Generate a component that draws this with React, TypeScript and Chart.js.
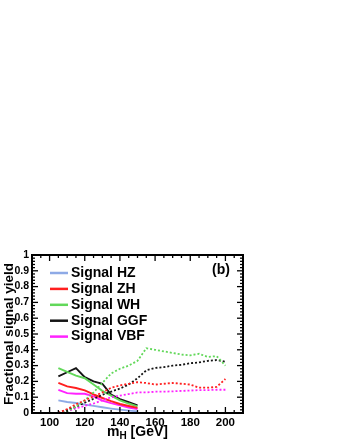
import React, { useEffect, useRef } from "react";
import { Chart, registerables } from "chart.js";

Chart.register(...registerables);

const seriesLabels = ["Signal HZ", "Signal ZH", "Signal WH", "Signal GGF", "Signal VBF"];
const seriesColors = ["#8eaae6", "#ff1f1f", "#62d85a", "#141414", "#ff22ff"];

const massLow = [105, 110, 115, 120, 125, 130, 135, 140, 145, 150];
const massFull = [105, 110, 115, 120, 125, 130, 135, 140, 145, 150, 155, 160, 165, 170, 175, 180, 185, 190, 195, 200];

// solid lines (low-mass analysis)
const hzLow = [0.08, 0.07, 0.063, 0.053, 0.045, 0.036, 0.028, 0.021, 0.015, 0.01];
const zhLow = [0.19, 0.168, 0.158, 0.143, 0.118, 0.095, 0.075, 0.057, 0.044, 0.032];
const whLow = [0.284, 0.26, 0.236, 0.22, 0.18, 0.14, 0.11, 0.08, 0.06, 0.042];
const ggfLow = [0.232, 0.258, 0.284, 0.227, 0.2, 0.185, 0.116, 0.088, 0.068, 0.048];
const vbfLow = [0.147, 0.126, 0.122, 0.122, 0.105, 0.078, 0.062, 0.048, 0.035, 0.025];

// dotted lines (high-mass analysis)
const zhHigh = [0, 0.025, 0.055, 0.08, 0.105, 0.13, 0.16, 0.175, 0.185, 0.195, 0.19, 0.18, 0.185, 0.19, 0.185, 0.18, 0.16, 0.16, 0.165, 0.215];
const whHigh = [0, 0.01, 0.04, 0.08, 0.13, 0.19, 0.25, 0.28, 0.3, 0.33, 0.41, 0.4, 0.39, 0.38, 0.37, 0.365, 0.375, 0.355, 0.36, 0.3];
const ggfHigh = [0, 0.02, 0.04, 0.065, 0.09, 0.115, 0.135, 0.155, 0.18, 0.22, 0.27, 0.285, 0.29, 0.3, 0.305, 0.315, 0.32, 0.33, 0.335, 0.325];
const vbfHigh = [0, 0.01, 0.03, 0.045, 0.06, 0.08, 0.1, 0.11, 0.12, 0.13, 0.13, 0.135, 0.135, 0.137, 0.14, 0.142, 0.145, 0.145, 0.147, 0.147];

const xTickValues = [100, 120, 140, 160, 180, 200];
const yTickValues = [0, 0.1, 0.2, 0.3, 0.4, 0.5, 0.6, 0.7, 0.8, 0.9, 1];
const panelLabel = "(b)";
const xTitleMain = "m";
const xTitleSub = "H";
const xTitleRest = " [GeV]";
const yTitle = "Fractional signal yield";

const FONT = "'Liberation Sans', Arial, Helvetica, sans-serif";

function pts(xs: number[], ys: number[]) {
  return ys.map((y, i) => ({ x: xs[i], y }));
}

const rootStyle = {
  id: "rootStyle",
  afterDatasetsDraw(chart: any) {
    const { ctx, chartArea: a, scales } = chart;
    const xs = scales.x;
    const ys = scales.y;
    ctx.save();
    ctx.strokeStyle = "#000";
    ctx.lineWidth = 1.3;
    const line = (x1: number, y1: number, x2: number, y2: number) => {
      ctx.beginPath();
      ctx.moveTo(x1, y1);
      ctx.lineTo(x2, y2);
      ctx.stroke();
    };
    // x ticks (major every 20, minor every 5)
    for (let m = 90; m <= 210; m += 5) {
      const len = m % 20 === 0 ? 6 : 3;
      const px = xs.getPixelForValue(m);
      line(px, a.bottom, px, a.bottom - len);
      line(px, a.top, px, a.top + len);
    }
    // y ticks (major every 0.1, minor every 0.02)
    for (let i = 0; i <= 50; i++) {
      const len = i % 5 === 0 ? 6 : 3;
      const py = ys.getPixelForValue(i / 50);
      line(a.left, py, a.left + len, py);
      line(a.right, py, a.right - len, py);
    }
    // frame
    ctx.lineWidth = 2;
    ctx.strokeRect(a.left, a.top, a.right - a.left, a.bottom - a.top);

    // legend
    ctx.textBaseline = "middle";
    ctx.textAlign = "left";
    ctx.font = `bold 14px ${FONT}`;
    for (let i = 0; i < seriesLabels.length; i++) {
      const y = a.top + 18 + i * 15.9;
      ctx.strokeStyle = seriesColors[i];
      ctx.lineWidth = 2.5;
      line(a.left + 18, y, a.left + 36, y);
      ctx.fillStyle = "#000";
      ctx.fillText(seriesLabels[i], a.left + 39, y);
    }

    // panel label
    ctx.textAlign = "right";
    ctx.font = `bold 14px ${FONT}`;
    ctx.fillText(panelLabel, a.right - 13, a.top + 15);

    // x title with subscript
    const big = `bold 14px ${FONT}`;
    const small = `bold 10px ${FONT}`;
    ctx.font = big;
    const w1 = ctx.measureText(xTitleMain).width;
    const w3 = ctx.measureText(xTitleRest).width;
    ctx.font = small;
    const w2 = ctx.measureText(xTitleSub).width;
    const total = w1 + w2 + w3;
    let x = (a.left + a.right) / 2 - total / 2;
    const base = 436;
    ctx.textAlign = "left";
    ctx.textBaseline = "alphabetic";
    ctx.font = big;
    ctx.fillText(xTitleMain, x, base);
    x += w1;
    ctx.font = small;
    ctx.fillText(xTitleSub, x, base + 3);
    x += w2;
    ctx.font = big;
    ctx.fillText(xTitleRest, x, base);
    ctx.restore();
  },
};

export default function App() {
  const ref = useRef<HTMLCanvasElement | null>(null);
  useEffect(() => {
    if (!ref.current) return;
    const solid = (i: number, data: number[]) => ({
      label: seriesLabels[i],
      data: pts(massLow, data),
      borderColor: seriesColors[i],
      backgroundColor: seriesColors[i],
      borderWidth: 1.9,
      pointRadius: 0,
      tension: 0,
      fill: false,
    });
    const dotted = (i: number, data: number[]) => ({
      label: seriesLabels[i],
      data: pts(massFull, data),
      borderColor: seriesColors[i],
      backgroundColor: seriesColors[i],
      borderWidth: 1.8,
      borderDash: [2, 2],
      pointRadius: 0,
      tension: 0,
      fill: false,
    });
    const chart = new Chart(ref.current, {
      type: "line",
      data: {
        datasets: [
          dotted(1, zhHigh),
          dotted(2, whHigh),
          dotted(3, ggfHigh),
          dotted(4, vbfHigh),
          solid(0, hzLow),
          solid(1, zhLow),
          solid(2, whLow),
          solid(3, ggfLow),
          solid(4, vbfLow),
        ],
      },
      options: {
        animation: false,
        responsive: false,
        maintainAspectRatio: false,
        layout: { padding: { top: 255, right: 97, left: 0, bottom: 0 } },
        plugins: { legend: { display: false }, tooltip: { enabled: false } },
        scales: {
          x: {
            type: "linear",
            min: 90,
            max: 210,
            grid: { display: false, drawTicks: false },
            border: { display: false },
            afterBuildTicks: (s: any) => {
              s.ticks = xTickValues.map((v) => ({ value: v }));
            },
            afterFit: (s: any) => {
              s.height = 27;
            },
            ticks: {
              autoSkip: false,
              maxRotation: 0,
              padding: 3,
              color: "#000",
              font: { family: FONT, weight: "bold", size: 11.5 },
              callback: (v: any) => String(v),
            },
          },
          y: {
            type: "linear",
            min: 0,
            max: 1,
            grid: { display: false, drawTicks: false },
            border: { display: false },
            afterBuildTicks: (s: any) => {
              s.ticks = yTickValues.map((v) => ({ value: v }));
            },
            afterFit: (s: any) => {
              s.width = 32;
            },
            title: {
              display: true,
              text: yTitle,
              color: "#000",
              font: { family: FONT, weight: "bold", size: 13.5 },
              padding: { top: 1, bottom: 0 },
            },
            ticks: {
              autoSkip: false,
              padding: 3,
              color: "#000",
              font: { family: FONT, weight: "bold", size: 10.5 },
              callback: (v: any) => String(Math.round(Number(v) * 10) / 10),
            },
          },
        },
      },
      plugins: [rootStyle],
    } as any);
    return () => chart.destroy();
  }, []);
  return (
    <canvas
      ref={ref}
      width={340}
      height={440}
      style={{ position: "fixed", left: 0, top: 0, width: 340, height: 440, background: "#fff" }}
    />
  );
}
